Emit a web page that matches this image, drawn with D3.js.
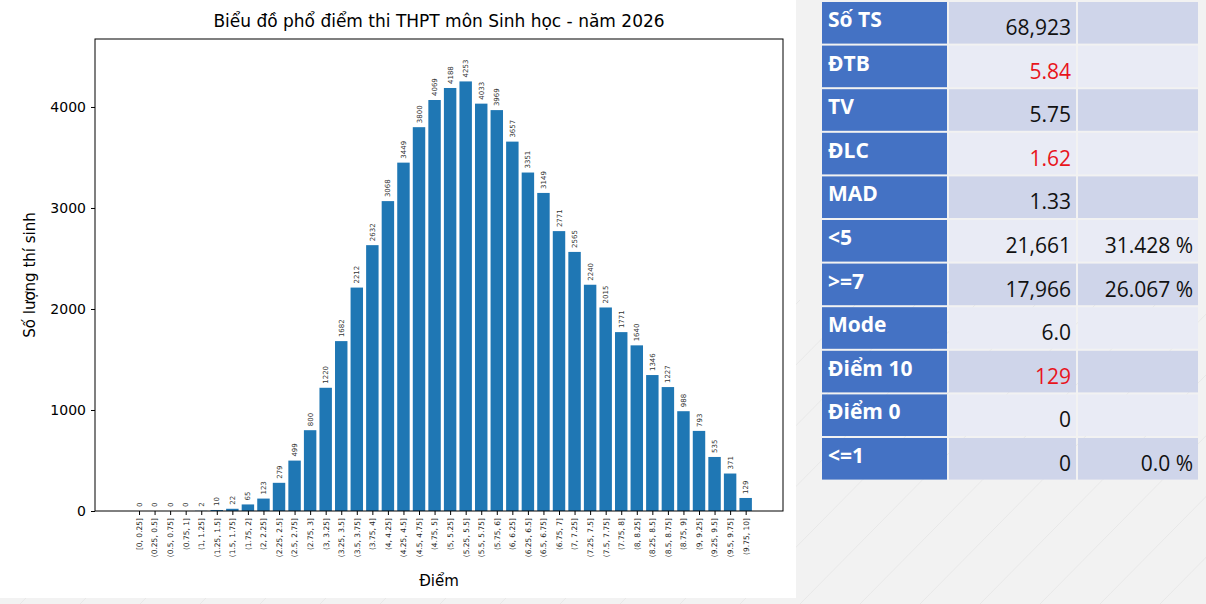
<!DOCTYPE html>
<html><head><meta charset="utf-8">
<script src="https://cdn.jsdelivr.net/npm/d3@7"></script>
<style>
body{margin:0;background:#f2f2f2;font-family:"DejaVu Sans",sans-serif}
#wrap{position:relative;width:1206px;height:604px;overflow:hidden}
svg{position:absolute;left:0;top:0}
</style></head><body><div id="wrap"></div>
<script>
const bins = ["[0, 0.25]","(0.25, 0.5]","(0.5, 0.75]","(0.75, 1]","(1, 1.25]","(1.25, 1.5]","(1.5, 1.75]","(1.75, 2]","(2, 2.25]","(2.25, 2.5]","(2.5, 2.75]","(2.75, 3]","(3, 3.25]","(3.25, 3.5]","(3.5, 3.75]","(3.75, 4]","(4, 4.25]","(4.25, 4.5]","(4.5, 4.75]","(4.75, 5]","(5, 5.25]","(5.25, 5.5]","(5.5, 5.75]","(5.75, 6]","(6, 6.25]","(6.25, 6.5]","(6.5, 6.75]","(6.75, 7]","(7, 7.25]","(7.25, 7.5]","(7.5, 7.75]","(7.75, 8]","(8, 8.25]","(8.25, 8.5]","(8.5, 8.75]","(8.75, 9]","(9, 9.25]","(9.25, 9.5]","(9.5, 9.75]","(9.75, 10]"]
const counts = [0,0,0,0,2,10,22,65,123,279,499,800,1220,1682,2212,2632,3068,3449,3800,4069,4188,4253,4033,3969,3657,3351,3149,2771,2565,2240,2015,1771,1640,1346,1227,988,793,535,371,129]
const yTicks = [0,1000,2000,3000,4000]
const statLabels = ["Số TS","ĐTB","TV","ĐLC","MAD","<5",">=7","Mode","Điểm 10","Điểm 0","<=1"]
const statValues = ["68,923","5.84","5.75","1.62","1.33","21,661","17,966","6.0","129","0","0"]
const statPct = ["","","","","","31.428 %","26.067 %","","","","0.0 %"]
const redRows = [1,3,8]

const svg = d3.select('#wrap').append('svg').attr('width',1206).attr('height',604)

// faint background grid on right side
const grid = svg.append('g')
for (let i = -20; i < 40; i++) {
    grid.append('line').attr('x1',800+i*60).attr('y1',604).attr('x2',800+i*60+300).attr('y2',300)
        .attr('stroke','#e8e8e8').attr('stroke-width',1)
}
svg.append('rect').attr('x',0).attr('y',0).attr('width',796).attr('height',598).attr('fill','#fff')

const pLeft = 95, pRight = 783, pTop = 39, pBottom = 511
const x = d3.scaleLinear().domain([-2.83, 41.4]).range([pLeft, pRight])
const y = d3.scaleLinear().domain([0, 4673]).range([pBottom, pTop])
const bw = (x(0.8) - x(0))

svg.append('g').selectAll('rect').data(counts).enter().append('rect')
    .attr('x', (d,i) => x(i) - bw/2).attr('width', bw)
    .attr('y', d => y(d)).attr('height', d => pBottom - y(d))
    .attr('fill', '#1f77b4')

svg.append('g').selectAll('text').data(counts).enter().append('text')
    .attr('transform', (d,i) => `translate(${x(i)+2.5},${y(d)-4}) rotate(-90)`)
    .style('font-size', '7px').attr('fill', '#333').text(d => d)

svg.append('rect').attr('x',pLeft).attr('y',pTop).attr('width',pRight-pLeft).attr('height',pBottom-pTop)
    .attr('fill','none').attr('stroke','#000').attr('stroke-width',1)

const yAxis = svg.append('g').attr('transform',`translate(${pLeft},0)`)
    .call(d3.axisLeft(y).tickValues(yTicks).tickFormat(d3.format('d')).tickSize(4).tickSizeOuter(0).tickPadding(5))
yAxis.select('.domain').remove()
yAxis.selectAll('text').style('font-size','14px').style('font-family','DejaVu Sans').attr('fill','#000')

const xAxis = svg.append('g').attr('transform',`translate(0,${pBottom})`)
    .call(d3.axisBottom(x).tickValues(d3.range(bins.length)).tickFormat(i => bins[i]).tickSize(4).tickSizeOuter(0))
xAxis.select('.domain').remove()
xAxis.selectAll('text').style('font-size','7.5px').style('font-family','DejaVu Sans').attr('fill','#222')
    .attr('text-anchor','end').attr('dy','0.32em').attr('transform','translate(0,7) rotate(-90)').attr('x',0).attr('y',0)

svg.append('text').attr('x',(pLeft+pRight)/2).attr('y',27).attr('text-anchor','middle')
    .style('font-size','17px').text('Biểu đồ phổ điểm thi THPT môn Sinh học - năm 2026')
svg.append('text').attr('x',(pLeft+pRight)/2).attr('y',586).attr('text-anchor','middle')
    .style('font-size','15px').text('Điểm')
svg.append('text').attr('transform',`translate(35,${(pTop+pBottom)/2}) rotate(-90)`).attr('text-anchor','middle')
    .style('font-size','15px').text('Số lượng thí sinh')

// stats table
const tx = [822, 949, 1078], tw = [125, 127, 120]
const rowH = 43.6, ty0 = 2
const rows = svg.append('g').selectAll('g').data(statLabels).enter().append('g')
    .attr('transform', (d,i) => `translate(0,${ty0 + i*rowH})`)
rows.append('rect').attr('x',tx[0]).attr('width',tw[0]).attr('height',rowH-2).attr('fill','#4472c4')
rows.append('rect').attr('x',tx[1]).attr('width',tw[1]).attr('height',rowH-2).attr('fill',(d,i)=> i%2 ? '#e9ebf5' : '#cfd5ea')
rows.append('rect').attr('x',tx[2]).attr('width',tw[2]).attr('height',rowH-2).attr('fill',(d,i)=> i%2 ? '#e9ebf5' : '#cfd5ea')
rows.append('text').attr('x',tx[0]+6).attr('y',25).style('font-family','Open Sans').style('font-weight','bold')
    .style('font-size','21px').attr('fill','#fff').text(d => d)
rows.append('text').attr('x',tx[1]+tw[1]-5).attr('y',33).attr('text-anchor','end').style('font-family','Open Sans')
    .style('font-size','21px').attr('fill',(d,i)=> redRows.includes(i) ? '#e8141c' : '#111').text((d,i) => statValues[i])
rows.append('text').attr('x',tx[2]+tw[2]-5).attr('y',33).attr('text-anchor','end').style('font-family','Open Sans')
    .style('font-size','21px').attr('fill','#111').text((d,i) => statPct[i])
</script></body></html>
